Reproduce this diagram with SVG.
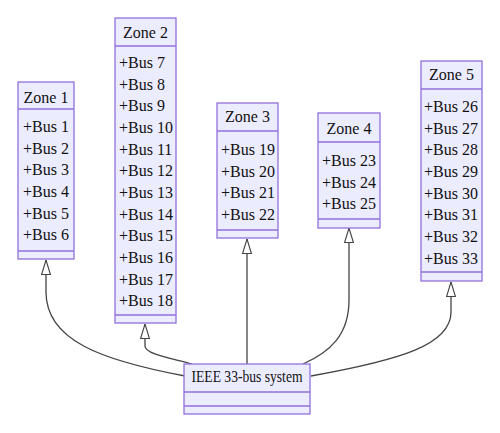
<svg xmlns="http://www.w3.org/2000/svg" width="500" height="433" viewBox="0 0 500 433">
<defs>
<style>
.box{fill:#ECECFF;stroke:#9370DB;stroke-width:1.3}
.div{stroke:#9370DB;stroke-width:1.3;fill:none}
.t{text-anchor:middle}
.edge{fill:none;stroke:#444;stroke-width:1.3}
</style>
<marker id="tri" viewBox="0 0 16 10" refX="15.5" refY="5" markerWidth="16" markerHeight="10" markerUnits="userSpaceOnUse" orient="auto">
<path d="M1,0.6 L15.5,5 L1,9.4 Z" fill="#fff" stroke="#444" stroke-width="1.1"/>
</marker>
</defs>
<rect width="500" height="433" fill="#fff"/>
<g id="connectors">
<path class="edge" d="M185,376 C100,360 46,340 46,292 L46,260" marker-end="url(#tri)"/>
<path class="edge" d="M192,364 C170,358 145,354 145,346 L145,324" marker-end="url(#tri)"/>
<path class="edge" d="M247,364 L247,239" marker-end="url(#tri)"/>
<path class="edge" d="M303,364 C330,352 349,335 349,300 L349,228" marker-end="url(#tri)"/>
<path class="edge" d="M311,376 C400,360 451,345 451,312 L451,282" marker-end="url(#tri)"/>
</g>
<g font-family="Liberation Serif, DejaVu Serif, serif" font-size="16" fill="#111">
<g id="zone1">
<rect class="box" x="18" y="82" width="56" height="177"/>
<path class="div" d="M18,109 H74 M18,251 H74"/>
<text class="t" x="46" y="103">Zone 1</text>
<text x="23" y="132">+Bus 1</text>
<text x="23" y="153.7">+Bus 2</text>
<text x="23" y="175.3">+Bus 3</text>
<text x="23" y="197">+Bus 4</text>
<text x="23" y="218.7">+Bus 5</text>
<text x="23" y="240.3">+Bus 6</text>
</g>
<g id="zone2">
<rect class="box" x="115" y="18" width="61" height="305"/>
<path class="div" d="M115,46 H176 M115,315 H176"/>
<text class="t" x="145.5" y="38">Zone 2</text>
<text x="119" y="68">+Bus 7</text>
<text x="119" y="89.7">+Bus 8</text>
<text x="119" y="111.3">+Bus 9</text>
<text x="119" y="133">+Bus 10</text>
<text x="119" y="154.7">+Bus 11</text>
<text x="119" y="176.3">+Bus 12</text>
<text x="119" y="198">+Bus 13</text>
<text x="119" y="219.7">+Bus 14</text>
<text x="119" y="241.3">+Bus 15</text>
<text x="119" y="263">+Bus 16</text>
<text x="119" y="284.7">+Bus 17</text>
<text x="119" y="306.3">+Bus 18</text>
</g>
<g id="zone3">
<rect class="box" x="217" y="103" width="61" height="135"/>
<path class="div" d="M217,131 H278 M217,230 H278"/>
<text class="t" x="247.5" y="122">Zone 3</text>
<text x="221" y="155">+Bus 19</text>
<text x="221" y="176.7">+Bus 20</text>
<text x="221" y="198.3">+Bus 21</text>
<text x="221" y="220">+Bus 22</text>
</g>
<g id="zone4">
<rect class="box" x="318" y="113" width="62" height="115"/>
<path class="div" d="M318,142 H380 M318,219 H380"/>
<text class="t" x="349" y="134">Zone 4</text>
<text x="322" y="166">+Bus 23</text>
<text x="322" y="187.7">+Bus 24</text>
<text x="322" y="209.3">+Bus 25</text>
</g>
<g id="zone5">
<rect class="box" x="421" y="61" width="61" height="220"/>
<path class="div" d="M421,89 H482 M421,272 H482"/>
<text class="t" x="451.5" y="80">Zone 5</text>
<text x="424" y="112">+Bus 26</text>
<text x="424" y="133.7">+Bus 27</text>
<text x="424" y="155.3">+Bus 28</text>
<text x="424" y="177">+Bus 29</text>
<text x="424" y="198.7">+Bus 30</text>
<text x="424" y="220.3">+Bus 31</text>
<text x="424" y="242">+Bus 32</text>
<text x="424" y="263.7">+Bus 33</text>
</g>
<g id="ieee">
<rect class="box" x="184" y="364" width="126" height="50"/>
<path class="div" d="M184,392 H310 M184,406 H310"/>
<text class="t" x="247" y="382" textLength="111" lengthAdjust="spacingAndGlyphs">IEEE 33-bus system</text>
</g>
</g>
</svg>
